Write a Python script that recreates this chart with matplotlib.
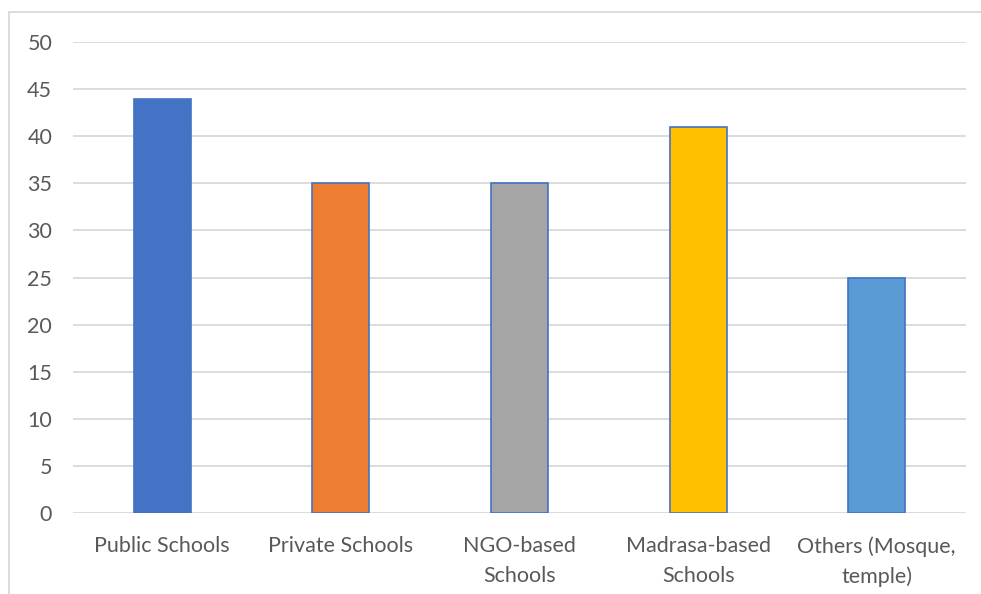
import matplotlib
matplotlib.use('Agg')
import matplotlib.pyplot as plt
from matplotlib.patches import Rectangle

plt.rcParams['font.family'] = ['Lato', 'DejaVu Sans']

categories = ['Public Schools', 'Private Schools', 'NGO-based\nSchools',
              'Madrasa-based\nSchools', 'Others (Mosque,\ntemple)']
values = [44, 35, 35, 41, 25]
colors = ['#4472C4', '#ED7D31', '#A5A5A5', '#FFC000', '#5B9BD5']
y_ticks = [0, 5, 10, 15, 20, 25, 30, 35, 40, 45, 50]

TEXT = '#595959'
GRID = '#D9D9D9'

fig = plt.figure(figsize=(9.81, 5.94), dpi=100)
ax = fig.add_axes([73 / 981, 81 / 594, 893 / 981, 471 / 594])

x = range(len(categories))
ax.bar(x, values, width=0.32, color=colors, edgecolor='#4472C4', linewidth=1.2, zorder=3)

ax.set_xlim(-0.5, len(categories) - 0.5)
ax.set_ylim(0, 50)
ax.set_yticks(y_ticks)
ax.set_xticks(list(x))
ax.set_xticklabels(categories, linespacing=1.6)
ax.tick_params(axis='both', length=0, labelsize=15.5, colors=TEXT)
ax.tick_params(axis='x', pad=16.5)
ax.tick_params(axis='y', pad=15)
ax.grid(axis='y', color=GRID, linewidth=1.3, zorder=0)
for s in ax.spines.values():
    s.set_visible(False)

# chart-area frame, clipped at the right and bottom edges
fig.patches.append(Rectangle((9 / 981, -0.2), 1.2, (594 - 12) / 594 + 0.2,
                             transform=fig.transFigure, fill=False,
                             edgecolor=GRID, linewidth=1.3))

fig.savefig('out.png', dpi=100)
